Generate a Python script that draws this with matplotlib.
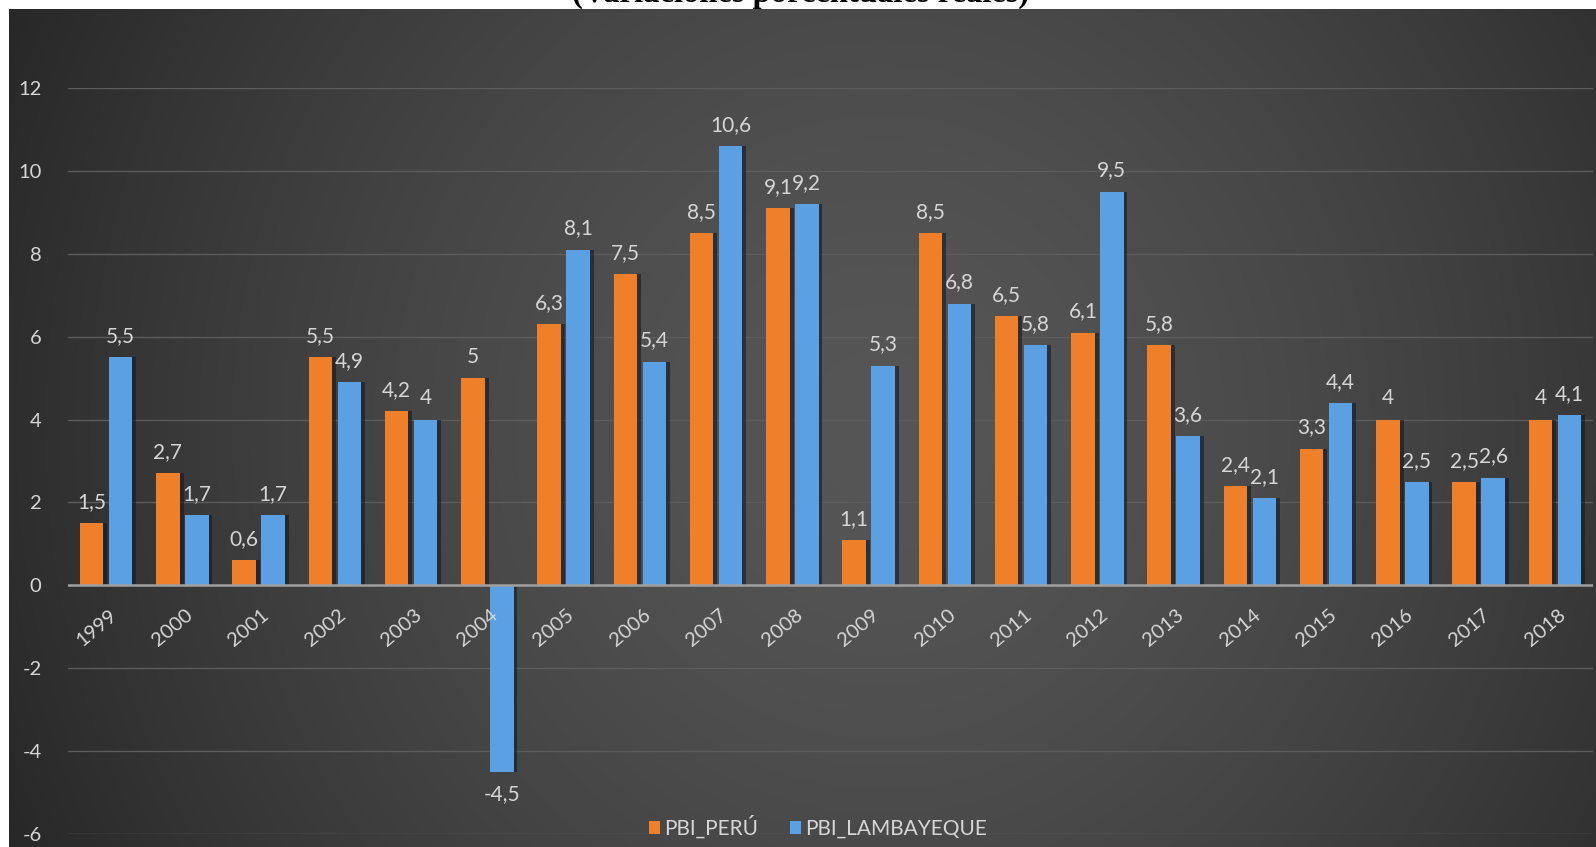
import matplotlib
matplotlib.use("Agg")
import matplotlib.pyplot as plt
import numpy as np

# --- Data ---
years = ["1999", "2000", "2001", "2002", "2003", "2004", "2005", "2006", "2007", "2008",
         "2009", "2010", "2011", "2012", "2013", "2014", "2015", "2016", "2017", "2018"]
pbi_peru = [1.5, 2.7, 0.6, 5.5, 4.2, 5, 6.3, 7.5, 8.5, 9.1,
            1.1, 8.5, 6.5, 6.1, 5.8, 2.4, 3.3, 4, 2.5, 4]
pbi_lamb = [5.5, 1.7, 1.7, 4.9, 4, -4.5, 8.1, 5.4, 10.6, 9.2,
            5.3, 6.8, 5.8, 9.5, 3.6, 2.1, 4.4, 2.5, 2.6, 4.1]
series_names = ["PBI_PERÚ", "PBI_LAMBAYEQUE"]
yticks = [-6, -4, -2, 0, 2, 4, 6, 8, 10, 12]

ORANGE = "#F07F2A"
BLUE = "#5AA0E2"
TXT = "#d6d6d6"

plt.rcParams["font.family"] = ["Lato", "DejaVu Sans"]

W, H = 1596, 847
fig = plt.figure(figsize=(W / 100, H / 100), dpi=100)
fig.patch.set_facecolor("white")

# --- dark radial background ---
bg = fig.add_axes([9 / W, 0, 1 - 9 / W, (H - 9) / H], zorder=0)
gx, gy = np.meshgrid(np.linspace(0, 1, 400), np.linspace(0, 1, 220))
r = np.sqrt(((gx - 0.55) / 0.6) ** 2 + ((gy - 0.5) / 1.2) ** 2)
val = 86 - 46 * np.clip(r, 0, 1.2) ** 1.5
img = np.dstack([val, val, val]) / 255.0
bg.imshow(np.clip(img, 0, 1), aspect="auto", extent=[0, 1, 0, 1], interpolation="bilinear")
bg.set_axis_off()

# --- main axes ---
x0, x1 = 68, 1593
ytop, ybot = 88, 834
ax = fig.add_axes([x0 / W, (H - ybot) / H, (x1 - x0) / W, (ybot - ytop) / H], zorder=1)
ax.patch.set_alpha(0)

x = np.arange(len(years))
bw = 0.31
off = 0.19

# shadows
ax.bar(x - off + 0.05, pbi_peru, bw, color="#121a26", alpha=0.6, zorder=2)
ax.bar(x + off + 0.05, pbi_lamb, bw, color="#121a26", alpha=0.6, zorder=2)
b1 = ax.bar(x - off, pbi_peru, bw, color=ORANGE, zorder=3, label=series_names[0])
b2 = ax.bar(x + off, pbi_lamb, bw, color=BLUE, zorder=3, label=series_names[1])

ax.set_xlim(-0.5, len(years) - 0.5)
ax.set_ylim(-6, 12)
ax.set_yticks(yticks)
ax.set_yticklabels([str(v) for v in yticks], color=TXT, fontsize=14.5)
ax.tick_params(axis="y", length=0, pad=19)
ax.set_xticks([])
for s in ax.spines.values():
    s.set_visible(False)
for v in yticks:
    if v != 0:
        ax.axhline(v, color="#5c5c5c", lw=1, zorder=1)
ax.axhline(0, color="#a0a0a0", lw=1.8, zorder=4)

# value labels
def fmt(v):
    s = f"{v:g}"
    return s.replace(".", ",")

for xs, vals in ((x - off, pbi_peru), (x + off, pbi_lamb)):
    for xi, v in zip(xs, vals):
        if v >= 0:
            ax.annotate(fmt(v), xy=(xi, v), xytext=(0, 8), textcoords="offset points",
                        ha="center", va="bottom", color=TXT, fontsize=15, zorder=5)
        else:
            ax.annotate(fmt(v), xy=(xi, v), xytext=(0, -9), textcoords="offset points",
                        ha="center", va="top", color=TXT, fontsize=15, zorder=5)

# category labels
for xi, lab in zip(x, years):
    ax.annotate(lab, xy=(xi, 0), xytext=(2, -15), textcoords="offset points",
                ha="right", va="top", rotation=40, rotation_mode="anchor",
                color=TXT, fontsize=14.5, zorder=5)

# legend
fig.legend(handles=[b1, b2], labels=series_names, loc="center",
           bbox_to_anchor=(818 / W, (H - 827) / H), ncol=2, frameon=False,
           fontsize=15, labelcolor=TXT, handlelength=0.55, handleheight=0.55,
           handletextpad=0.2, columnspacing=1.5)

# title (cut off at the top edge, as in the source)
fig.text(801 / W, 1 - 1.5 / H, "(Variaciones porcentuales reales)", ha="center",
         va="baseline", fontsize=23.5, fontweight="bold", color="black",
         family=["Liberation Serif", "DejaVu Serif"], zorder=10)

fig.savefig("out.png", dpi=100, facecolor="white")
